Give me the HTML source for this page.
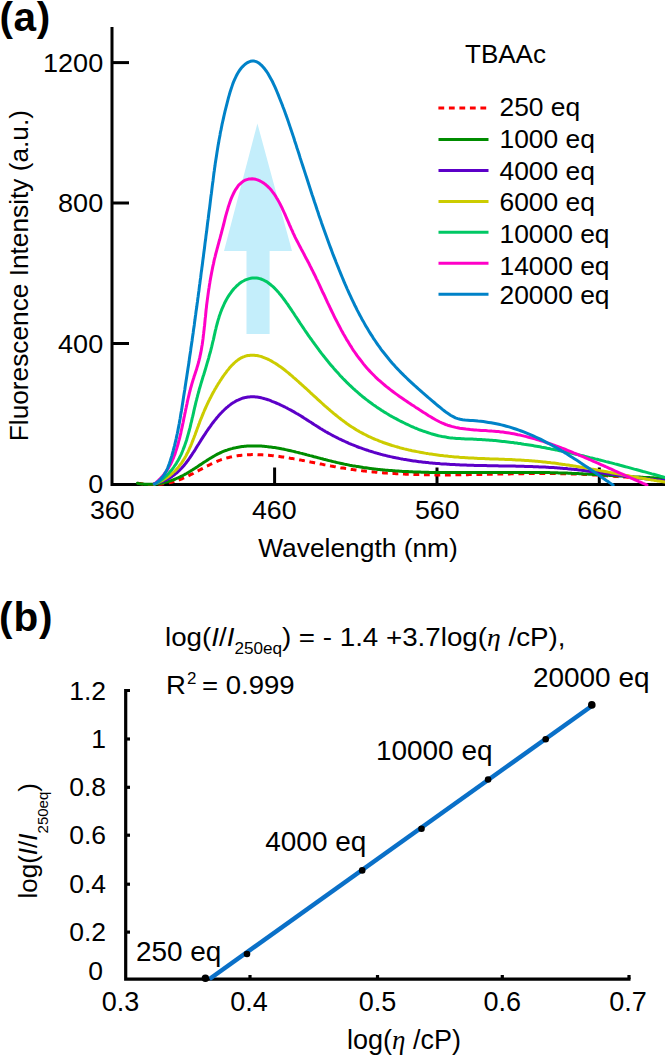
<!DOCTYPE html>
<html><head><meta charset="utf-8"><style>
html,body{margin:0;padding:0;background:#fff;overflow:hidden;}
svg{display:block;}
text{font-family:"Liberation Sans", sans-serif;fill:#000;}
</style></head><body>
<svg width="665" height="1057" viewBox="0 0 665 1057">
<rect width="665" height="1057" fill="#fff"/>
<text transform="translate(-0.5,31)" font-size="40.5" font-weight="bold" letter-spacing="0.6">(a)</text>
<path d="M246.5,334 L246.5,251 L224,251 L257.4,123.5 L292,251 L269.6,251 L269.6,334 Z" fill="#c4eefb"/>
<g stroke="#000" stroke-width="3" fill="none">
<path d="M112,27 L112,484.5 L665,484.5"/>
<path d="M112,62.6 L129,62.6"/>
<path d="M112,203 L129,203"/>
<path d="M112,343.5 L129,343.5"/>
<path d="M274.6,467.5 L274.6,484.5"/>
<path d="M437,467.5 L437,484.5"/>
<path d="M599.3,467.5 L599.3,484.5"/>
</g>
<defs><clipPath id="ca"><rect x="112" y="0" width="560" height="486"/></clipPath></defs>
<g clip-path="url(#ca)" fill="none" stroke-width="3" stroke-linejoin="round" stroke-linecap="round">
<path d="M137.4,483.2 L138.9,483.4 L140.3,483.6 L141.7,483.8 L143.1,484.0 L144.6,484.2 L146.0,484.3 L147.4,484.4 L148.8,484.5 L150.1,484.5 L151.5,484.6 L152.9,484.6 L154.3,484.6 L155.6,484.5 L157.0,484.5 L158.4,484.4 L159.7,484.3 L161.1,484.2 L162.4,484.0 L163.7,483.8 L165.1,483.6 L166.4,483.4 L167.7,483.2 L169.0,482.9 L170.3,482.6 L171.6,482.3 L172.9,481.9 L174.2,481.5 L175.5,481.1 L176.8,480.7 L178.1,480.3 L179.3,479.8 L180.6,479.3 L181.9,478.8 L183.1,478.2 L184.4,477.7 L185.6,477.1 L186.9,476.5 L188.1,476.0 L189.4,475.3 L190.6,474.7 L191.8,474.1 L193.1,473.5 L194.3,472.8 L195.5,472.2 L196.8,471.5 L198.0,470.9 L199.2,470.2 L200.4,469.6 L201.7,468.9 L202.9,468.3 L204.1,467.6 L205.3,467.0 L206.5,466.3 L207.8,465.7 L209.0,465.1 L210.2,464.5 L211.4,463.9 L212.7,463.3 L213.9,462.8 L215.1,462.2 L216.3,461.7 L217.6,461.1 L218.8,460.6 L220.0,460.2 L221.3,459.7 L222.5,459.3 L223.8,458.9 L225.0,458.5 L226.3,458.1 L227.5,457.8 L228.8,457.5 L230.0,457.1 L231.3,456.9 L232.6,456.6 L233.8,456.3 L235.1,456.1 L236.4,455.9 L237.6,455.7 L238.9,455.5 L240.2,455.4 L241.5,455.2 L242.7,455.1 L244.0,455.0 L245.3,454.9 L246.6,454.8 L247.9,454.7 L249.2,454.7 L250.5,454.7 L251.8,454.6 L253.1,454.6 L254.4,454.6 L255.7,454.6 L257.0,454.6 L258.3,454.7 L259.6,454.7 L260.9,454.8 L262.2,454.8 L263.5,454.9 L264.8,455.0 L266.2,455.1 L267.5,455.2 L268.8,455.3 L270.1,455.4 L271.5,455.6 L272.8,455.7 L274.1,455.9 L275.4,456.0 L276.8,456.2 L278.1,456.3 L279.4,456.5 L280.8,456.7 L282.1,456.9 L283.5,457.1 L284.8,457.3 L286.1,457.5 L287.5,457.7 L288.8,457.9 L290.2,458.2 L291.5,458.4 L292.9,458.6 L294.2,458.9 L295.6,459.1 L296.9,459.4 L298.3,459.6 L299.6,459.9 L301.0,460.1 L302.3,460.4 L303.7,460.6 L305.1,460.9 L306.4,461.2 L307.8,461.4 L309.1,461.7 L310.5,462.0 L311.8,462.2 L313.2,462.5 L314.6,462.8 L315.9,463.1 L317.3,463.3 L318.7,463.6 L320.0,463.9 L321.4,464.1 L322.7,464.4 L324.1,464.7 L325.5,464.9 L326.8,465.2 L328.2,465.5 L329.6,465.7 L330.9,466.0 L332.3,466.2 L333.7,466.5 L335.0,466.7 L336.4,467.0 L337.7,467.2 L339.1,467.4 L340.5,467.7 L341.8,467.9 L343.2,468.1 L344.6,468.3 L345.9,468.6 L347.3,468.8 L348.6,469.0 L350.0,469.2 L351.4,469.4 L352.7,469.6 L354.1,469.7 L355.4,469.9 L356.8,470.1 L358.2,470.3 L359.5,470.5 L360.9,470.6 L362.3,470.8 L363.6,470.9 L365.0,471.1 L366.3,471.3 L367.7,471.4 L369.0,471.5 L370.4,471.7 L371.8,471.8 L373.1,472.0 L374.5,472.1 L375.8,472.2 L377.2,472.3 L378.6,472.5 L379.9,472.6 L381.3,472.7 L382.6,472.8 L384.0,472.9 L385.3,473.0 L386.7,473.1 L388.0,473.2 L389.4,473.3 L390.8,473.4 L392.1,473.5 L393.5,473.5 L394.8,473.6 L396.2,473.7 L397.5,473.8 L398.9,473.8 L400.2,473.9 L401.6,474.0 L403.0,474.0 L404.3,474.1 L405.7,474.2 L407.0,474.2 L408.4,474.3 L409.7,474.3 L411.1,474.4 L412.4,474.4 L413.8,474.5 L415.1,474.5 L416.5,474.5 L417.8,474.6 L419.2,474.6 L420.5,474.6 L421.9,474.7 L423.3,474.7 L424.6,474.7 L426.0,474.7 L427.3,474.8 L428.7,474.8 L430.0,474.8 L431.4,474.8 L432.7,474.8 L434.1,474.8 L435.4,474.9 L436.8,474.9 L438.1,474.9 L439.5,474.9 L440.8,474.9 L442.2,474.9 L443.5,474.9 L444.9,474.9 L446.2,474.9 L447.6,474.9 L448.9,474.9 L450.3,474.9 L451.6,474.8 L453.0,474.8 L454.3,474.8 L455.7,474.8 L457.0,474.8 L458.4,474.8 L459.7,474.8 L461.1,474.8 L462.4,474.7 L463.8,474.7 L465.1,474.7 L466.5,474.7 L467.8,474.7 L469.2,474.6 L470.5,474.6 L471.9,474.6 L473.2,474.6 L474.6,474.6 L475.9,474.5 L477.3,474.5 L478.6,474.5 L480.0,474.5 L481.3,474.4 L482.7,474.4 L484.0,474.4 L485.4,474.3 L486.7,474.3 L488.1,474.3 L489.4,474.3 L490.8,474.2 L492.1,474.2 L493.5,474.2 L494.8,474.2 L496.2,474.1 L497.5,474.1 L498.9,474.1 L500.2,474.0 L501.6,474.0 L502.9,474.0 L504.2,474.0 L505.6,473.9 L506.9,473.9 L508.3,473.9 L509.6,473.9 L511.0,473.8 L512.3,473.8 L513.7,473.8 L515.0,473.8 L516.4,473.8 L517.7,473.7 L519.1,473.7 L520.4,473.7 L521.8,473.7 L523.1,473.7 L524.5,473.6 L525.8,473.6 L527.2,473.6 L528.5,473.6 L529.9,473.6 L531.2,473.6 L532.6,473.6 L533.9,473.5 L535.3,473.5 L536.6,473.5 L538.0,473.5 L539.3,473.5 L540.7,473.5 L542.0,473.5 L543.4,473.5 L544.7,473.5 L546.1,473.5 L547.4,473.5 L548.8,473.5 L550.1,473.5 L551.5,473.5 L552.8,473.6 L554.2,473.6 L555.5,473.6 L556.9,473.6 L558.2,473.6 L559.6,473.6 L560.9,473.7 L562.3,473.7 L563.6,473.7 L565.0,473.7 L566.3,473.8 L567.7,473.8 L569.0,473.8 L570.4,473.9 L571.7,473.9 L573.1,474.0 L574.4,474.0 L575.8,474.1 L577.1,474.1 L578.5,474.2 L579.8,474.2 L581.2,474.3 L582.5,474.3 L583.9,474.4 L585.2,474.5 L586.6,474.5 L587.9,474.6 L589.3,474.7 L590.6,474.7 L592.0,474.8 L593.3,474.9 L594.7,475.0 L596.0,475.1 L597.4,475.2 L598.8,475.2 L600.1,475.3 L601.5,475.4 L602.8,475.5 L604.2,475.6 L605.5,475.7 L606.9,475.8 L608.2,475.9 L609.6,476.0 L610.9,476.1 L612.3,476.2 L613.7,476.3 L615.0,476.4 L616.4,476.5 L617.7,476.6 L619.1,476.7 L620.4,476.8 L621.8,476.9 L623.1,477.0 L624.5,477.1 L625.9,477.1 L627.2,477.2 L628.6,477.3 L629.9,477.4 L631.3,477.5 L632.7,477.6 L634.0,477.7 L635.4,477.8 L636.8,477.9 L638.1,477.9 L639.5,478.0 L640.8,478.1 L642.2,478.2 L643.6,478.2 L644.9,478.3 L646.3,478.4 L647.7,478.4 L649.0,478.5 L650.4,478.6 L651.8,478.6 L653.1,478.7 L654.5,478.7 L655.9,478.8 L657.2,478.8 L658.6,478.8 L660.0,478.9 L661.3,478.9 L662.7,478.9 L664.1,479.0 L665.5,479.0 L666.8,479.0 L668.2,479.0 L669.6,479.0 L671.0,479.0" stroke="#ff0000" stroke-dasharray="5.8,4.7" stroke-linecap="butt"/>
<path d="M137.4,483.2 L138.9,483.5 L140.3,483.7 L141.7,483.9 L143.2,484.0 L144.6,484.2 L146.0,484.3 L147.4,484.3 L148.8,484.3 L150.2,484.3 L151.6,484.3 L153.0,484.2 L154.4,484.1 L155.7,484.0 L157.1,483.9 L158.4,483.7 L159.8,483.5 L161.1,483.3 L162.5,483.0 L163.8,482.7 L165.1,482.4 L166.4,482.0 L167.7,481.7 L169.0,481.3 L170.3,480.9 L171.6,480.4 L172.9,480.0 L174.2,479.5 L175.5,479.0 L176.7,478.4 L178.0,477.9 L179.2,477.3 L180.5,476.7 L181.7,476.1 L182.9,475.5 L184.2,474.8 L185.4,474.1 L186.6,473.5 L187.8,472.7 L189.0,472.0 L190.2,471.3 L191.4,470.5 L192.6,469.8 L193.8,469.0 L195.0,468.3 L196.2,467.5 L197.4,466.7 L198.5,465.9 L199.7,465.1 L200.9,464.4 L202.1,463.6 L203.2,462.8 L204.4,462.0 L205.6,461.3 L206.8,460.5 L207.9,459.7 L209.1,459.0 L210.3,458.3 L211.5,457.6 L212.6,456.9 L213.8,456.2 L215.0,455.5 L216.2,454.8 L217.4,454.2 L218.6,453.6 L219.8,453.0 L221.0,452.5 L222.2,451.9 L223.4,451.4 L224.6,450.9 L225.8,450.5 L227.0,450.1 L228.3,449.6 L229.5,449.3 L230.7,448.9 L232.0,448.6 L233.2,448.2 L234.4,447.9 L235.7,447.7 L236.9,447.4 L238.2,447.2 L239.5,447.0 L240.7,446.8 L242.0,446.6 L243.3,446.4 L244.5,446.3 L245.8,446.2 L247.1,446.1 L248.4,446.0 L249.7,445.9 L250.9,445.9 L252.2,445.9 L253.5,445.9 L254.8,445.9 L256.1,445.9 L257.4,445.9 L258.7,446.0 L260.1,446.0 L261.4,446.1 L262.7,446.2 L264.0,446.3 L265.3,446.4 L266.6,446.6 L268.0,446.7 L269.3,446.9 L270.6,447.0 L272.0,447.2 L273.3,447.4 L274.6,447.6 L276.0,447.8 L277.3,448.1 L278.6,448.3 L280.0,448.5 L281.3,448.8 L282.7,449.1 L284.0,449.3 L285.4,449.6 L286.7,449.9 L288.1,450.2 L289.4,450.5 L290.8,450.8 L292.1,451.1 L293.5,451.4 L294.9,451.7 L296.2,452.1 L297.6,452.4 L298.9,452.7 L300.3,453.1 L301.7,453.4 L303.0,453.8 L304.4,454.1 L305.8,454.5 L307.1,454.9 L308.5,455.2 L309.9,455.6 L311.3,455.9 L312.6,456.3 L314.0,456.7 L315.4,457.0 L316.7,457.4 L318.1,457.8 L319.5,458.1 L320.9,458.5 L322.2,458.8 L323.6,459.2 L325.0,459.5 L326.3,459.9 L327.7,460.3 L329.1,460.6 L330.5,460.9 L331.8,461.3 L333.2,461.6 L334.6,461.9 L336.0,462.3 L337.3,462.6 L338.7,462.9 L340.1,463.2 L341.4,463.5 L342.8,463.8 L344.2,464.1 L345.5,464.4 L346.9,464.6 L348.3,464.9 L349.6,465.2 L351.0,465.4 L352.4,465.7 L353.7,465.9 L355.1,466.1 L356.5,466.4 L357.8,466.6 L359.2,466.8 L360.5,467.0 L361.9,467.2 L363.3,467.5 L364.6,467.7 L366.0,467.8 L367.3,468.0 L368.7,468.2 L370.1,468.4 L371.4,468.6 L372.8,468.7 L374.1,468.9 L375.5,469.1 L376.8,469.2 L378.2,469.4 L379.6,469.5 L380.9,469.7 L382.3,469.8 L383.6,469.9 L385.0,470.1 L386.3,470.2 L387.7,470.3 L389.0,470.4 L390.4,470.5 L391.7,470.6 L393.1,470.7 L394.4,470.8 L395.8,470.9 L397.2,471.0 L398.5,471.1 L399.9,471.2 L401.2,471.3 L402.6,471.4 L403.9,471.4 L405.3,471.5 L406.6,471.6 L408.0,471.6 L409.3,471.7 L410.7,471.8 L412.0,471.8 L413.4,471.9 L414.7,471.9 L416.1,472.0 L417.4,472.0 L418.8,472.1 L420.1,472.1 L421.5,472.2 L422.8,472.2 L424.2,472.2 L425.5,472.3 L426.9,472.3 L428.2,472.3 L429.6,472.4 L430.9,472.4 L432.3,472.4 L433.6,472.4 L435.0,472.5 L436.3,472.5 L437.7,472.5 L439.0,472.5 L440.4,472.5 L441.7,472.6 L443.1,472.6 L444.5,472.6 L445.8,472.6 L447.2,472.6 L448.5,472.6 L449.9,472.6 L451.2,472.6 L452.6,472.6 L453.9,472.6 L455.3,472.6 L456.6,472.6 L458.0,472.6 L459.3,472.6 L460.7,472.6 L462.0,472.6 L463.4,472.6 L464.8,472.6 L466.1,472.6 L467.5,472.6 L468.8,472.6 L470.2,472.6 L471.5,472.6 L472.9,472.6 L474.2,472.6 L475.6,472.6 L477.0,472.6 L478.3,472.6 L479.7,472.6 L481.0,472.6 L482.4,472.6 L483.7,472.5 L485.1,472.5 L486.5,472.5 L487.8,472.5 L489.2,472.5 L490.5,472.5 L491.9,472.5 L493.2,472.5 L494.6,472.5 L496.0,472.5 L497.3,472.5 L498.7,472.4 L500.0,472.4 L501.4,472.4 L502.8,472.4 L504.1,472.4 L505.5,472.4 L506.8,472.4 L508.2,472.4 L509.6,472.4 L510.9,472.4 L512.3,472.4 L513.7,472.4 L515.0,472.4 L516.4,472.4 L517.7,472.4 L519.1,472.4 L520.5,472.4 L521.8,472.4 L523.2,472.4 L524.6,472.4 L525.9,472.4 L527.3,472.4 L528.7,472.4 L530.0,472.4 L531.4,472.4 L532.8,472.4 L534.1,472.4 L535.5,472.5 L536.9,472.5 L538.2,472.5 L539.6,472.5 L541.0,472.5 L542.3,472.5 L543.7,472.6 L545.1,472.6 L546.4,472.6 L547.8,472.6 L549.2,472.6 L550.5,472.7 L551.9,472.7 L553.3,472.7 L554.6,472.8 L556.0,472.8 L557.4,472.8 L558.8,472.9 L560.1,472.9 L561.5,473.0 L562.9,473.0 L564.3,473.0 L565.6,473.1 L567.0,473.1 L568.4,473.2 L569.7,473.3 L571.1,473.3 L572.5,473.4 L573.9,473.4 L575.2,473.5 L576.6,473.6 L578.0,473.6 L579.4,473.7 L580.7,473.7 L582.1,473.8 L583.5,473.9 L584.9,474.0 L586.3,474.0 L587.6,474.1 L589.0,474.2 L590.4,474.3 L591.8,474.3 L593.1,474.4 L594.5,474.5 L595.9,474.6 L597.3,474.6 L598.6,474.7 L600.0,474.8 L601.4,474.9 L602.8,475.0 L604.1,475.1 L605.5,475.1 L606.9,475.2 L608.3,475.3 L609.6,475.4 L611.0,475.5 L612.4,475.6 L613.8,475.6 L615.1,475.7 L616.5,475.8 L617.9,475.9 L619.3,476.0 L620.6,476.1 L622.0,476.1 L623.4,476.2 L624.7,476.3 L626.1,476.4 L627.5,476.5 L628.8,476.5 L630.2,476.6 L631.6,476.7 L633.0,476.8 L634.3,476.9 L635.7,476.9 L637.1,477.0 L638.4,477.1 L639.8,477.1 L641.1,477.2 L642.5,477.3 L643.9,477.4 L645.2,477.4 L646.6,477.5 L648.0,477.6 L649.3,477.6 L650.7,477.7 L652.0,477.7 L653.4,477.8 L654.8,477.9 L656.1,477.9 L657.5,478.0 L658.8,478.0 L660.2,478.1 L661.5,478.1 L662.9,478.2 L664.2,478.2 L665.6,478.2 L666.9,478.3 L668.3,478.3 L669.6,478.3 L671.0,478.4" stroke="#008c00"/>
<path d="M154.3,483.7 L155.9,483.4 L157.5,483.0 L159.0,482.6 L160.4,482.1 L161.9,481.6 L163.3,481.1 L164.6,480.5 L166.0,479.9 L167.2,479.3 L168.5,478.6 L169.7,477.9 L170.9,477.2 L172.1,476.4 L173.2,475.6 L174.3,474.8 L175.4,473.9 L176.5,473.1 L177.5,472.2 L178.5,471.2 L179.5,470.3 L180.5,469.3 L181.5,468.3 L182.4,467.3 L183.3,466.3 L184.2,465.2 L185.1,464.1 L186.0,463.0 L186.8,461.9 L187.7,460.8 L188.5,459.7 L189.3,458.5 L190.1,457.3 L190.9,456.1 L191.7,455.0 L192.5,453.7 L193.3,452.5 L194.1,451.3 L194.9,450.1 L195.7,448.8 L196.4,447.6 L197.2,446.3 L198.0,445.0 L198.8,443.8 L199.6,442.5 L200.4,441.2 L201.2,439.9 L202.0,438.7 L202.8,437.4 L203.6,436.1 L204.5,434.8 L205.3,433.6 L206.1,432.3 L207.0,431.0 L207.8,429.8 L208.7,428.5 L209.6,427.3 L210.5,426.1 L211.3,424.9 L212.2,423.7 L213.1,422.5 L214.0,421.3 L215.0,420.1 L215.9,419.0 L216.8,417.8 L217.8,416.7 L218.7,415.6 L219.7,414.5 L220.6,413.5 L221.6,412.5 L222.6,411.4 L223.6,410.5 L224.6,409.5 L225.6,408.6 L226.6,407.7 L227.7,406.8 L228.7,405.9 L229.8,405.1 L230.8,404.3 L231.9,403.6 L233.0,402.8 L234.1,402.2 L235.2,401.5 L236.3,400.9 L237.4,400.3 L238.6,399.8 L239.7,399.3 L240.9,398.8 L242.0,398.4 L243.2,398.0 L244.4,397.7 L245.6,397.4 L246.8,397.2 L248.1,397.0 L249.3,396.9 L250.6,396.8 L251.8,396.7 L253.1,396.7 L254.4,396.8 L255.7,396.9 L257.0,397.0 L258.4,397.2 L259.7,397.5 L261.1,397.8 L262.4,398.1 L263.8,398.5 L265.1,398.9 L266.5,399.3 L267.9,399.7 L269.3,400.2 L270.6,400.7 L272.0,401.3 L273.4,401.8 L274.8,402.4 L276.2,403.0 L277.6,403.6 L279.0,404.2 L280.3,404.8 L281.7,405.5 L283.1,406.2 L284.5,406.8 L285.8,407.5 L287.2,408.2 L288.6,409.0 L289.9,409.7 L291.3,410.4 L292.6,411.2 L294.0,411.9 L295.3,412.7 L296.6,413.5 L298.0,414.2 L299.3,415.0 L300.6,415.8 L301.9,416.6 L303.2,417.4 L304.4,418.2 L305.7,419.0 L307.0,419.9 L308.3,420.7 L309.5,421.5 L310.8,422.3 L312.0,423.1 L313.3,423.9 L314.5,424.7 L315.8,425.5 L317.0,426.3 L318.3,427.1 L319.5,427.9 L320.8,428.7 L322.1,429.4 L323.3,430.2 L324.6,430.9 L325.8,431.7 L327.1,432.4 L328.3,433.1 L329.6,433.8 L330.9,434.5 L332.2,435.2 L333.4,435.9 L334.7,436.5 L336.0,437.2 L337.3,437.8 L338.5,438.5 L339.8,439.1 L341.1,439.7 L342.4,440.3 L343.7,440.9 L345.0,441.5 L346.3,442.1 L347.6,442.7 L348.9,443.3 L350.2,443.8 L351.5,444.4 L352.8,444.9 L354.1,445.4 L355.4,445.9 L356.7,446.5 L358.0,447.0 L359.3,447.5 L360.7,447.9 L362.0,448.4 L363.3,448.9 L364.6,449.3 L366.0,449.8 L367.3,450.2 L368.6,450.7 L370.0,451.1 L371.3,451.5 L372.6,451.9 L374.0,452.4 L375.3,452.7 L376.7,453.1 L378.0,453.5 L379.3,453.9 L380.7,454.3 L382.0,454.6 L383.4,455.0 L384.8,455.3 L386.1,455.6 L387.5,456.0 L388.8,456.3 L390.2,456.6 L391.6,456.9 L392.9,457.2 L394.3,457.5 L395.7,457.8 L397.0,458.1 L398.4,458.3 L399.8,458.6 L401.2,458.9 L402.5,459.1 L403.9,459.4 L405.3,459.6 L406.7,459.8 L408.1,460.1 L409.5,460.3 L410.8,460.5 L412.2,460.7 L413.6,460.9 L415.0,461.1 L416.4,461.3 L417.8,461.5 L419.2,461.7 L420.6,461.8 L422.0,462.0 L423.4,462.2 L424.8,462.3 L426.2,462.5 L427.6,462.6 L429.0,462.8 L430.4,462.9 L431.9,463.0 L433.3,463.2 L434.7,463.3 L436.1,463.4 L437.5,463.5 L438.9,463.6 L440.3,463.8 L441.8,463.9 L443.2,464.0 L444.6,464.1 L446.0,464.1 L447.4,464.2 L448.9,464.3 L450.3,464.4 L451.7,464.5 L453.1,464.6 L454.6,464.6 L456.0,464.7 L457.4,464.8 L458.9,464.8 L460.3,464.9 L461.7,464.9 L463.1,465.0 L464.6,465.1 L466.0,465.1 L467.4,465.2 L468.9,465.2 L470.3,465.3 L471.7,465.3 L473.2,465.3 L474.6,465.4 L476.1,465.4 L477.5,465.4 L478.9,465.5 L480.4,465.5 L481.8,465.5 L483.2,465.6 L484.7,465.6 L486.1,465.6 L487.6,465.7 L489.0,465.7 L490.4,465.7 L491.9,465.7 L493.3,465.8 L494.8,465.8 L496.2,465.8 L497.6,465.8 L499.1,465.9 L500.5,465.9 L502.0,465.9 L503.4,465.9 L504.8,466.0 L506.3,466.0 L507.7,466.0 L509.2,466.0 L510.6,466.1 L512.0,466.1 L513.5,466.1 L514.9,466.1 L516.4,466.2 L517.8,466.2 L519.2,466.2 L520.7,466.3 L522.1,466.3 L523.6,466.3 L525.0,466.4 L526.4,466.4 L527.9,466.5 L529.3,466.5 L530.7,466.6 L532.2,466.6 L533.6,466.7 L535.0,466.7 L536.5,466.8 L537.9,466.8 L539.3,466.9 L540.8,466.9 L542.2,467.0 L543.6,467.1 L545.1,467.1 L546.5,467.2 L547.9,467.3 L549.3,467.4 L550.8,467.5 L552.2,467.6 L553.6,467.6 L555.0,467.7 L556.5,467.8 L557.9,467.9 L559.3,468.0 L560.7,468.2 L562.1,468.3 L563.5,468.4 L565.0,468.5 L566.4,468.6 L567.8,468.8 L569.2,468.9 L570.6,469.0 L572.0,469.2 L573.4,469.3 L574.8,469.5 L576.3,469.6 L577.7,469.8 L579.1,470.0 L580.5,470.1 L581.9,470.3 L583.3,470.5 L584.7,470.6 L586.1,470.8 L587.5,471.0 L588.9,471.2 L590.3,471.4 L591.7,471.5 L593.1,471.7 L594.5,471.9 L595.9,472.1 L597.3,472.3 L598.7,472.5 L600.1,472.7 L601.5,472.9 L602.9,473.1 L604.3,473.3 L605.7,473.5 L607.1,473.7 L608.5,473.9 L609.9,474.1 L611.3,474.2 L612.7,474.4 L614.1,474.6 L615.5,474.8 L616.9,475.0 L618.3,475.2 L619.7,475.4 L621.1,475.6 L622.5,475.8 L623.9,476.0 L625.3,476.2 L626.7,476.4 L628.2,476.6 L629.6,476.8 L631.0,477.0 L632.4,477.1 L633.8,477.3 L635.2,477.5 L636.6,477.7 L638.0,477.9 L639.5,478.0 L640.9,478.2 L642.3,478.4 L643.7,478.5 L645.1,478.7 L646.6,478.9 L648.0,479.0 L649.4,479.2 L650.8,479.3 L652.3,479.5 L653.7,479.6 L655.1,479.7 L656.6,479.9 L658.0,480.0 L659.4,480.1 L660.9,480.2 L662.3,480.3 L663.7,480.5 L665.2,480.6 L666.6,480.7 L668.1,480.7 L669.5,480.8 L671.0,480.9" stroke="#5c00c8"/>
<path d="M154.4,484.1 L156.1,483.4 L157.7,482.7 L159.3,481.9 L160.9,481.2 L162.4,480.4 L163.8,479.5 L165.2,478.7 L166.6,477.8 L167.9,476.9 L169.1,476.0 L170.4,475.0 L171.5,474.0 L172.7,473.0 L173.8,472.0 L174.9,471.0 L175.9,469.9 L176.9,468.8 L177.9,467.7 L178.8,466.6 L179.7,465.4 L180.6,464.3 L181.5,463.1 L182.3,461.9 L183.1,460.7 L183.9,459.4 L184.6,458.2 L185.4,456.9 L186.1,455.6 L186.7,454.3 L187.4,453.0 L188.1,451.7 L188.7,450.4 L189.3,449.0 L189.9,447.6 L190.5,446.3 L191.1,444.9 L191.7,443.5 L192.2,442.1 L192.8,440.7 L193.3,439.3 L193.9,437.8 L194.4,436.4 L195.0,435.0 L195.5,433.5 L196.0,432.1 L196.6,430.6 L197.1,429.1 L197.6,427.7 L198.2,426.2 L198.7,424.7 L199.3,423.3 L199.8,421.8 L200.4,420.3 L201.0,418.8 L201.6,417.4 L202.2,415.9 L202.8,414.4 L203.4,412.9 L204.0,411.5 L204.6,410.0 L205.3,408.5 L206.0,407.0 L206.6,405.6 L207.3,404.1 L208.0,402.6 L208.7,401.1 L209.5,399.7 L210.2,398.2 L211.0,396.7 L211.7,395.3 L212.5,393.8 L213.3,392.3 L214.1,390.9 L214.9,389.4 L215.8,388.0 L216.6,386.5 L217.5,385.1 L218.4,383.6 L219.3,382.2 L220.2,380.7 L221.2,379.3 L222.1,377.9 L223.1,376.4 L224.1,375.0 L225.1,373.6 L226.1,372.3 L227.1,370.9 L228.2,369.6 L229.2,368.3 L230.3,367.1 L231.4,365.8 L232.5,364.7 L233.6,363.6 L234.8,362.5 L235.9,361.5 L237.1,360.6 L238.2,359.7 L239.4,358.9 L240.6,358.2 L241.8,357.6 L243.0,357.0 L244.2,356.6 L245.4,356.1 L246.7,355.8 L247.9,355.5 L249.2,355.4 L250.4,355.2 L251.7,355.2 L253.0,355.2 L254.2,355.2 L255.5,355.4 L256.8,355.5 L258.1,355.8 L259.4,356.1 L260.7,356.4 L262.0,356.8 L263.3,357.3 L264.6,357.8 L265.9,358.3 L267.2,358.9 L268.6,359.5 L269.9,360.2 L271.2,360.9 L272.5,361.7 L273.8,362.5 L275.2,363.3 L276.5,364.1 L277.8,365.0 L279.1,365.9 L280.4,366.8 L281.8,367.8 L283.1,368.8 L284.4,369.8 L285.7,370.8 L287.0,371.9 L288.3,372.9 L289.6,374.0 L290.9,375.1 L292.2,376.2 L293.4,377.3 L294.7,378.4 L296.0,379.5 L297.2,380.6 L298.5,381.7 L299.7,382.9 L301.0,384.0 L302.2,385.1 L303.4,386.2 L304.7,387.3 L305.9,388.4 L307.1,389.5 L308.3,390.6 L309.5,391.7 L310.6,392.8 L311.8,393.9 L313.0,395.0 L314.2,396.1 L315.4,397.2 L316.5,398.2 L317.7,399.3 L318.9,400.4 L320.0,401.4 L321.2,402.5 L322.3,403.5 L323.5,404.6 L324.6,405.6 L325.8,406.6 L327.0,407.6 L328.1,408.6 L329.3,409.6 L330.4,410.6 L331.6,411.6 L332.8,412.6 L333.9,413.6 L335.1,414.5 L336.3,415.5 L337.4,416.4 L338.6,417.4 L339.8,418.3 L341.0,419.2 L342.2,420.1 L343.4,421.0 L344.6,421.9 L345.8,422.8 L347.0,423.7 L348.2,424.5 L349.5,425.4 L350.7,426.2 L351.9,427.0 L353.2,427.8 L354.5,428.6 L355.7,429.4 L357.0,430.2 L358.3,430.9 L359.6,431.7 L360.9,432.4 L362.3,433.1 L363.6,433.9 L364.9,434.5 L366.3,435.2 L367.6,435.9 L369.0,436.6 L370.4,437.2 L371.8,437.8 L373.2,438.5 L374.6,439.1 L376.0,439.7 L377.5,440.2 L378.9,440.8 L380.3,441.4 L381.8,441.9 L383.2,442.5 L384.7,443.0 L386.2,443.5 L387.7,444.0 L389.2,444.5 L390.6,445.0 L392.1,445.5 L393.6,445.9 L395.2,446.4 L396.7,446.8 L398.2,447.2 L399.7,447.7 L401.3,448.1 L402.8,448.5 L404.3,448.9 L405.9,449.2 L407.4,449.6 L409.0,450.0 L410.5,450.3 L412.1,450.7 L413.7,451.0 L415.2,451.3 L416.8,451.6 L418.4,451.9 L419.9,452.2 L421.5,452.5 L423.1,452.8 L424.7,453.1 L426.3,453.4 L427.8,453.6 L429.4,453.9 L431.0,454.1 L432.6,454.3 L434.2,454.6 L435.8,454.8 L437.4,455.0 L438.9,455.2 L440.5,455.4 L442.1,455.6 L443.7,455.8 L445.3,455.9 L446.9,456.1 L448.4,456.3 L450.0,456.4 L451.6,456.6 L453.2,456.7 L454.7,456.9 L456.3,457.0 L457.9,457.1 L459.4,457.3 L461.0,457.4 L462.6,457.5 L464.1,457.6 L465.7,457.7 L467.2,457.8 L468.8,457.9 L470.3,458.0 L471.8,458.1 L473.4,458.1 L474.9,458.2 L476.5,458.3 L478.0,458.4 L479.5,458.4 L481.1,458.5 L482.6,458.6 L484.1,458.6 L485.6,458.7 L487.2,458.7 L488.7,458.8 L490.2,458.9 L491.7,458.9 L493.3,459.0 L494.8,459.0 L496.3,459.1 L497.8,459.1 L499.3,459.2 L500.8,459.2 L502.4,459.3 L503.9,459.3 L505.4,459.4 L506.9,459.5 L508.4,459.5 L509.9,459.6 L511.4,459.6 L513.0,459.7 L514.5,459.8 L516.0,459.9 L517.5,459.9 L519.0,460.0 L520.5,460.1 L522.0,460.2 L523.6,460.3 L525.1,460.4 L526.6,460.5 L528.1,460.6 L529.6,460.7 L531.1,460.8 L532.7,460.9 L534.2,461.0 L535.7,461.2 L537.2,461.3 L538.8,461.4 L540.3,461.6 L541.8,461.7 L543.4,461.9 L544.9,462.0 L546.4,462.2 L548.0,462.4 L549.5,462.6 L551.0,462.8 L552.6,462.9 L554.1,463.1 L555.6,463.3 L557.2,463.5 L558.7,463.8 L560.3,464.0 L561.8,464.2 L563.4,464.4 L564.9,464.6 L566.4,464.9 L568.0,465.1 L569.5,465.3 L571.1,465.6 L572.6,465.8 L574.2,466.1 L575.7,466.3 L577.3,466.6 L578.8,466.8 L580.4,467.1 L581.9,467.3 L583.5,467.6 L585.0,467.9 L586.6,468.1 L588.1,468.4 L589.7,468.7 L591.2,469.0 L592.8,469.2 L594.3,469.5 L595.9,469.8 L597.4,470.1 L599.0,470.4 L600.5,470.7 L602.1,470.9 L603.6,471.2 L605.2,471.5 L606.7,471.8 L608.3,472.1 L609.8,472.4 L611.4,472.7 L612.9,473.0 L614.5,473.2 L616.0,473.5 L617.6,473.8 L619.1,474.1 L620.7,474.4 L622.2,474.7 L623.8,475.0 L625.3,475.3 L626.8,475.5 L628.4,475.8 L629.9,476.1 L631.5,476.4 L633.0,476.7 L634.5,476.9 L636.1,477.2 L637.6,477.5 L639.1,477.8 L640.7,478.0 L642.2,478.3 L643.7,478.6 L645.3,478.8 L646.8,479.1 L648.3,479.4 L649.8,479.6 L651.4,479.9 L652.9,480.1 L654.4,480.4 L655.9,480.6 L657.4,480.9 L658.9,481.1 L660.5,481.3 L662.0,481.6 L663.5,481.8 L665.0,482.0 L666.5,482.2 L668.0,482.4 L669.5,482.6 L671.0,482.8" stroke="#cccc00"/>
<path d="M154.6,484.1 L156.3,483.2 L157.9,482.2 L159.5,481.2 L161.0,480.1 L162.5,479.0 L163.9,477.8 L165.2,476.7 L166.6,475.5 L167.8,474.2 L169.0,472.9 L170.2,471.6 L171.4,470.3 L172.5,468.9 L173.5,467.5 L174.5,466.0 L175.5,464.6 L176.5,463.1 L177.4,461.6 L178.3,460.0 L179.1,458.5 L179.9,456.9 L180.7,455.3 L181.5,453.6 L182.2,452.0 L182.9,450.3 L183.5,448.6 L184.2,446.9 L184.8,445.2 L185.4,443.5 L186.0,441.7 L186.6,440.0 L187.1,438.2 L187.6,436.4 L188.1,434.6 L188.6,432.8 L189.1,431.0 L189.6,429.2 L190.1,427.4 L190.5,425.6 L190.9,423.7 L191.4,421.9 L191.8,420.1 L192.2,418.2 L192.7,416.4 L193.1,414.6 L193.5,412.8 L193.9,410.9 L194.3,409.1 L194.7,407.3 L195.2,405.5 L195.6,403.7 L196.0,401.9 L196.5,400.2 L196.9,398.4 L197.4,396.7 L197.8,394.9 L198.3,393.2 L198.8,391.5 L199.2,389.7 L199.7,388.0 L200.2,386.3 L200.7,384.6 L201.2,382.9 L201.7,381.3 L202.2,379.6 L202.7,377.9 L203.2,376.2 L203.8,374.5 L204.3,372.8 L204.8,371.2 L205.3,369.5 L205.8,367.8 L206.3,366.1 L206.8,364.4 L207.3,362.7 L207.8,361.0 L208.3,359.3 L208.8,357.6 L209.2,355.9 L209.7,354.2 L210.2,352.5 L210.7,350.7 L211.1,349.0 L211.6,347.2 L212.0,345.4 L212.4,343.7 L212.8,341.9 L213.3,340.1 L213.7,338.3 L214.1,336.4 L214.5,334.6 L214.9,332.8 L215.3,330.9 L215.8,329.1 L216.2,327.2 L216.7,325.4 L217.2,323.5 L217.7,321.7 L218.2,319.9 L218.8,318.0 L219.3,316.2 L220.0,314.3 L220.6,312.5 L221.3,310.7 L222.0,308.9 L222.8,307.1 L223.6,305.3 L224.4,303.5 L225.3,301.7 L226.2,300.0 L227.2,298.3 L228.2,296.6 L229.3,294.9 L230.4,293.3 L231.5,291.8 L232.7,290.3 L233.9,288.8 L235.2,287.5 L236.4,286.2 L237.8,285.0 L239.1,283.8 L240.5,282.8 L241.9,281.8 L243.4,281.0 L244.8,280.2 L246.3,279.6 L247.8,279.1 L249.3,278.6 L250.8,278.3 L252.3,278.1 L253.8,278.0 L255.3,278.0 L256.7,278.1 L258.2,278.3 L259.6,278.6 L261.0,279.0 L262.4,279.6 L263.8,280.2 L265.1,280.9 L266.5,281.6 L267.8,282.5 L269.1,283.5 L270.4,284.5 L271.7,285.6 L273.0,286.7 L274.3,287.9 L275.6,289.2 L276.8,290.5 L278.1,291.9 L279.3,293.4 L280.5,294.8 L281.7,296.3 L282.9,297.9 L284.1,299.5 L285.3,301.1 L286.5,302.8 L287.7,304.4 L288.8,306.1 L290.0,307.8 L291.2,309.6 L292.3,311.3 L293.5,313.0 L294.6,314.8 L295.7,316.5 L296.9,318.2 L298.0,319.9 L299.1,321.6 L300.2,323.3 L301.4,325.0 L302.5,326.7 L303.6,328.3 L304.7,330.0 L305.8,331.6 L306.9,333.2 L308.0,334.8 L309.1,336.4 L310.2,338.0 L311.4,339.5 L312.5,341.1 L313.6,342.6 L314.7,344.2 L315.8,345.7 L316.9,347.2 L318.0,348.7 L319.1,350.2 L320.2,351.6 L321.3,353.1 L322.5,354.6 L323.6,356.0 L324.7,357.4 L325.8,358.8 L327.0,360.2 L328.1,361.6 L329.2,363.0 L330.4,364.4 L331.5,365.7 L332.7,367.1 L333.8,368.4 L335.0,369.7 L336.1,371.0 L337.3,372.3 L338.5,373.6 L339.6,374.9 L340.8,376.2 L342.0,377.4 L343.2,378.7 L344.4,379.9 L345.6,381.1 L346.8,382.4 L348.1,383.6 L349.3,384.8 L350.5,385.9 L351.8,387.1 L353.0,388.3 L354.3,389.4 L355.6,390.6 L356.9,391.7 L358.2,392.8 L359.5,394.0 L360.8,395.1 L362.1,396.2 L363.4,397.2 L364.8,398.3 L366.1,399.4 L367.5,400.4 L368.9,401.5 L370.3,402.5 L371.7,403.5 L373.1,404.6 L374.5,405.6 L376.0,406.6 L377.4,407.6 L378.9,408.5 L380.4,409.5 L381.8,410.5 L383.4,411.4 L384.9,412.4 L386.4,413.3 L388.0,414.2 L389.5,415.2 L391.1,416.1 L392.7,417.0 L394.3,417.9 L395.9,418.7 L397.6,419.6 L399.2,420.5 L400.9,421.3 L402.6,422.2 L404.3,423.0 L406.0,423.9 L407.8,424.7 L409.5,425.5 L411.3,426.3 L413.0,427.0 L414.8,427.8 L416.6,428.5 L418.4,429.3 L420.2,430.0 L422.0,430.6 L423.8,431.3 L425.7,431.9 L427.5,432.5 L429.3,433.1 L431.1,433.7 L433.0,434.2 L434.8,434.7 L436.6,435.2 L438.4,435.7 L440.3,436.1 L442.1,436.5 L443.9,436.8 L445.7,437.1 L447.5,437.4 L449.3,437.7 L451.1,437.9 L452.9,438.1 L454.7,438.2 L456.4,438.4 L458.2,438.5 L460.0,438.6 L461.8,438.7 L463.5,438.8 L465.3,438.9 L467.1,438.9 L468.8,439.0 L470.6,439.1 L472.3,439.1 L474.1,439.2 L475.9,439.3 L477.6,439.4 L479.4,439.5 L481.2,439.6 L482.9,439.7 L484.7,439.8 L486.5,439.9 L488.3,440.0 L490.0,440.2 L491.8,440.3 L493.6,440.5 L495.4,440.6 L497.1,440.8 L498.9,441.0 L500.7,441.2 L502.5,441.4 L504.2,441.6 L506.0,441.8 L507.8,442.0 L509.6,442.2 L511.4,442.4 L513.1,442.6 L514.9,442.9 L516.7,443.1 L518.5,443.4 L520.3,443.6 L522.1,443.9 L523.9,444.2 L525.6,444.4 L527.4,444.7 L529.2,445.0 L531.0,445.3 L532.8,445.6 L534.6,445.9 L536.4,446.2 L538.1,446.5 L539.9,446.8 L541.7,447.2 L543.5,447.5 L545.3,447.8 L547.1,448.2 L548.9,448.5 L550.7,448.9 L552.5,449.2 L554.2,449.6 L556.0,449.9 L557.8,450.3 L559.6,450.7 L561.4,451.0 L563.2,451.4 L565.0,451.8 L566.8,452.2 L568.5,452.6 L570.3,453.0 L572.1,453.4 L573.9,453.8 L575.7,454.2 L577.5,454.6 L579.3,455.0 L581.1,455.4 L582.8,455.8 L584.6,456.3 L586.4,456.7 L588.2,457.1 L590.0,457.6 L591.8,458.0 L593.5,458.4 L595.3,458.9 L597.1,459.3 L598.9,459.8 L600.7,460.2 L602.4,460.6 L604.2,461.1 L606.0,461.6 L607.8,462.0 L609.5,462.5 L611.3,462.9 L613.1,463.4 L614.9,463.9 L616.6,464.3 L618.4,464.8 L620.2,465.3 L621.9,465.7 L623.7,466.2 L625.5,466.7 L627.2,467.1 L629.0,467.6 L630.8,468.1 L632.5,468.6 L634.3,469.1 L636.0,469.5 L637.8,470.0 L639.6,470.5 L641.3,471.0 L643.1,471.5 L644.8,471.9 L646.6,472.4 L648.3,472.9 L650.1,473.4 L651.8,473.9 L653.6,474.3 L655.3,474.8 L657.0,475.3 L658.8,475.8 L660.5,476.3 L662.3,476.7 L664.0,477.2 L665.7,477.7 L667.5,478.2 L669.2,478.7 L670.9,479.1" stroke="#00c864"/>
<path d="M154.4,483.9 L156.3,482.4 L158.0,480.8 L159.7,479.2 L161.2,477.6 L162.7,475.9 L164.1,474.2 L165.4,472.4 L166.7,470.7 L167.8,468.9 L168.9,467.1 L170.0,465.2 L171.0,463.3 L171.9,461.4 L172.7,459.5 L173.6,457.6 L174.3,455.6 L175.1,453.6 L175.7,451.6 L176.4,449.6 L177.0,447.6 L177.6,445.5 L178.2,443.5 L178.7,441.4 L179.3,439.3 L179.8,437.3 L180.3,435.2 L180.8,433.1 L181.2,431.0 L181.7,428.8 L182.2,426.7 L182.6,424.6 L183.1,422.5 L183.5,420.4 L183.9,418.2 L184.4,416.1 L184.8,413.9 L185.3,411.8 L185.7,409.7 L186.2,407.5 L186.6,405.4 L187.1,403.3 L187.5,401.1 L188.0,399.0 L188.5,396.9 L189.0,394.8 L189.5,392.6 L190.1,390.5 L190.6,388.4 L191.2,386.3 L191.8,384.2 L192.4,382.1 L193.0,380.1 L193.7,378.0 L194.3,375.9 L195.0,373.9 L195.7,371.8 L196.4,369.8 L197.0,367.7 L197.6,365.7 L198.2,363.6 L198.8,361.5 L199.3,359.4 L199.8,357.4 L200.2,355.3 L200.7,353.2 L201.1,351.0 L201.5,348.9 L201.8,346.8 L202.2,344.7 L202.5,342.5 L202.8,340.4 L203.1,338.2 L203.3,336.1 L203.6,333.9 L203.8,331.8 L204.1,329.6 L204.3,327.4 L204.6,325.2 L204.8,323.0 L205.0,320.8 L205.2,318.6 L205.5,316.4 L205.7,314.2 L205.9,312.0 L206.1,309.8 L206.4,307.6 L206.6,305.3 L206.9,303.1 L207.2,300.9 L207.5,298.6 L207.8,296.4 L208.1,294.1 L208.4,291.9 L208.7,289.7 L209.1,287.4 L209.4,285.2 L209.8,283.0 L210.1,280.9 L210.5,278.7 L210.9,276.5 L211.3,274.4 L211.7,272.3 L212.1,270.2 L212.5,268.1 L212.9,266.1 L213.4,264.1 L213.8,262.1 L214.2,260.1 L214.7,258.2 L215.2,256.3 L215.6,254.5 L216.1,252.6 L216.6,250.8 L217.1,248.9 L217.6,247.1 L218.1,245.2 L218.6,243.3 L219.1,241.4 L219.7,239.5 L220.2,237.5 L220.7,235.5 L221.3,233.4 L221.8,231.3 L222.4,229.1 L223.0,226.8 L223.6,224.5 L224.2,222.1 L224.8,219.6 L225.4,217.2 L226.1,214.7 L226.8,212.2 L227.5,209.8 L228.2,207.3 L229.0,204.9 L229.8,202.5 L230.6,200.1 L231.5,197.9 L232.5,195.6 L233.5,193.5 L234.5,191.5 L235.6,189.6 L236.8,187.8 L238.0,186.1 L239.3,184.6 L240.7,183.3 L242.1,182.1 L243.6,181.0 L245.2,180.2 L246.9,179.6 L248.6,179.1 L250.3,178.9 L252.1,178.8 L253.9,179.0 L255.7,179.3 L257.5,179.9 L259.3,180.6 L261.0,181.5 L262.7,182.5 L264.3,183.6 L265.9,184.8 L267.4,186.1 L268.9,187.6 L270.3,189.1 L271.6,190.6 L272.9,192.3 L274.2,194.0 L275.4,195.8 L276.5,197.7 L277.7,199.6 L278.8,201.6 L279.9,203.6 L280.9,205.6 L281.9,207.7 L282.9,209.8 L283.9,212.0 L284.9,214.1 L285.8,216.3 L286.7,218.4 L287.7,220.6 L288.6,222.7 L289.5,224.9 L290.5,227.0 L291.4,229.1 L292.4,231.2 L293.3,233.3 L294.3,235.3 L295.2,237.3 L296.2,239.3 L297.2,241.2 L298.2,243.1 L299.2,245.1 L300.2,247.0 L301.2,248.9 L302.2,250.7 L303.2,252.6 L304.2,254.5 L305.1,256.3 L306.1,258.2 L307.1,260.1 L308.1,261.9 L309.1,263.8 L310.0,265.7 L311.0,267.6 L311.9,269.5 L312.9,271.4 L313.8,273.3 L314.8,275.2 L315.7,277.2 L316.6,279.1 L317.6,281.0 L318.5,283.0 L319.4,284.9 L320.3,286.9 L321.2,288.8 L322.1,290.8 L323.0,292.8 L324.0,294.7 L324.9,296.7 L325.8,298.7 L326.7,300.6 L327.6,302.6 L328.6,304.6 L329.5,306.5 L330.4,308.5 L331.4,310.5 L332.3,312.4 L333.3,314.4 L334.2,316.3 L335.2,318.3 L336.2,320.2 L337.2,322.2 L338.2,324.1 L339.2,326.0 L340.2,327.9 L341.2,329.9 L342.3,331.8 L343.3,333.7 L344.4,335.5 L345.5,337.4 L346.5,339.3 L347.7,341.1 L348.8,343.0 L349.9,344.8 L351.1,346.6 L352.2,348.5 L353.4,350.3 L354.6,352.0 L355.9,353.8 L357.1,355.6 L358.4,357.3 L359.7,359.0 L361.0,360.7 L362.3,362.4 L363.6,364.1 L365.0,365.8 L366.4,367.4 L367.8,369.0 L369.3,370.6 L370.8,372.2 L372.3,373.8 L373.8,375.3 L375.3,376.8 L376.9,378.3 L378.5,379.8 L380.1,381.2 L381.8,382.7 L383.5,384.1 L385.1,385.5 L386.8,386.9 L388.6,388.3 L390.3,389.6 L392.1,391.0 L393.8,392.3 L395.6,393.6 L397.4,394.9 L399.2,396.2 L401.1,397.5 L402.9,398.7 L404.7,400.0 L406.6,401.2 L408.4,402.5 L410.3,403.7 L412.1,404.9 L414.0,406.1 L415.8,407.4 L417.7,408.6 L419.5,409.8 L421.4,411.0 L423.2,412.2 L425.1,413.3 L426.9,414.5 L428.7,415.7 L430.6,416.8 L432.4,417.9 L434.3,419.0 L436.1,420.0 L438.0,421.0 L439.9,422.0 L441.8,422.9 L443.7,423.7 L445.6,424.5 L447.6,425.2 L449.5,425.8 L451.5,426.4 L453.5,426.9 L455.6,427.4 L457.6,427.8 L459.7,428.2 L461.8,428.5 L463.9,428.8 L466.0,429.1 L468.1,429.3 L470.2,429.6 L472.4,429.7 L474.5,429.9 L476.7,430.1 L478.9,430.2 L481.1,430.4 L483.2,430.5 L485.4,430.6 L487.6,430.8 L489.8,430.9 L492.0,431.1 L494.2,431.2 L496.4,431.4 L498.6,431.6 L500.7,431.9 L502.9,432.1 L505.1,432.4 L507.2,432.7 L509.4,433.1 L511.5,433.4 L513.7,433.8 L515.8,434.2 L517.9,434.7 L520.1,435.1 L522.2,435.6 L524.3,436.1 L526.4,436.6 L528.5,437.2 L530.6,437.7 L532.7,438.3 L534.8,438.9 L536.8,439.5 L538.9,440.1 L541.0,440.8 L543.1,441.4 L545.1,442.1 L547.2,442.8 L549.2,443.5 L551.3,444.2 L553.3,444.9 L555.4,445.7 L557.4,446.4 L559.4,447.2 L561.5,448.0 L563.5,448.7 L565.5,449.5 L567.5,450.3 L569.5,451.1 L571.5,451.9 L573.6,452.8 L575.6,453.6 L577.6,454.4 L579.6,455.3 L581.5,456.1 L583.5,456.9 L585.5,457.8 L587.5,458.7 L589.5,459.5 L591.5,460.4 L593.5,461.3 L595.5,462.1 L597.4,463.0 L599.4,463.9 L601.4,464.8 L603.4,465.7 L605.3,466.5 L607.3,467.4 L609.3,468.3 L611.3,469.2 L613.3,470.1 L615.2,471.0 L617.2,471.9 L619.2,472.8 L621.2,473.7 L623.1,474.5 L625.1,475.4 L627.1,476.3 L629.1,477.2 L631.1,478.1 L633.0,478.9 L635.0,479.8 L637.0,480.7 L639.0,481.6 L641.0,482.4 L643.0,483.3 L645.0,484.1 L647.0,485.0" stroke="#ff00c8"/>
<path d="M154.4,484.0 L156.8,482.5 L158.9,480.9 L160.8,479.0 L162.5,477.1 L164.0,475.0 L165.3,472.9 L166.5,470.6 L167.6,468.3 L168.5,465.9 L169.4,463.5 L170.2,461.0 L170.9,458.6 L171.7,456.1 L172.4,453.6 L173.1,451.1 L173.7,448.6 L174.4,446.1 L175.0,443.6 L175.6,441.1 L176.2,438.6 L176.7,436.0 L177.3,433.5 L177.8,431.0 L178.3,428.4 L178.8,425.9 L179.3,423.3 L179.7,420.8 L180.2,418.2 L180.6,415.6 L181.0,413.1 L181.5,410.5 L181.9,407.9 L182.3,405.3 L182.7,402.8 L183.1,400.2 L183.5,397.6 L183.9,395.0 L184.3,392.4 L184.8,389.8 L185.1,387.3 L185.5,384.7 L185.9,382.1 L186.3,379.5 L186.7,376.9 L187.1,374.3 L187.5,371.7 L187.9,369.1 L188.3,366.5 L188.7,363.9 L189.1,361.3 L189.4,358.7 L189.8,356.1 L190.2,353.5 L190.6,350.9 L190.9,348.3 L191.3,345.7 L191.7,343.1 L192.1,340.5 L192.4,337.9 L192.8,335.3 L193.2,332.7 L193.5,330.1 L193.9,327.5 L194.3,324.9 L194.6,322.2 L195.0,319.6 L195.3,317.0 L195.7,314.4 L196.0,311.8 L196.4,309.2 L196.8,306.6 L197.1,304.0 L197.5,301.4 L197.8,298.8 L198.2,296.2 L198.5,293.6 L198.9,291.0 L199.2,288.4 L199.5,285.8 L199.9,283.2 L200.2,280.6 L200.6,278.0 L200.9,275.4 L201.2,272.8 L201.6,270.3 L201.9,267.7 L202.3,265.1 L202.6,262.5 L202.9,259.9 L203.3,257.3 L203.6,254.7 L203.9,252.2 L204.3,249.6 L204.6,247.0 L204.9,244.4 L205.2,241.9 L205.6,239.3 L205.9,236.7 L206.2,234.2 L206.6,231.6 L206.9,229.0 L207.2,226.5 L207.5,223.9 L207.8,221.4 L208.2,218.8 L208.5,216.3 L208.8,213.7 L209.1,211.2 L209.5,208.6 L209.8,206.1 L210.1,203.6 L210.4,201.0 L210.7,198.5 L211.0,196.0 L211.4,193.4 L211.7,190.9 L212.0,188.4 L212.3,185.9 L212.6,183.4 L213.0,180.9 L213.3,178.4 L213.6,175.8 L213.9,173.3 L214.3,170.8 L214.6,168.3 L215.0,165.8 L215.3,163.2 L215.7,160.7 L216.1,158.2 L216.5,155.7 L216.9,153.1 L217.3,150.6 L217.7,148.0 L218.1,145.4 L218.6,142.9 L219.0,140.3 L219.5,137.7 L220.0,135.1 L220.4,132.5 L221.0,129.9 L221.5,127.3 L222.0,124.7 L222.6,122.0 L223.2,119.3 L223.8,116.7 L224.4,114.0 L225.0,111.3 L225.7,108.6 L226.4,105.9 L227.1,103.1 L227.8,100.3 L228.5,97.6 L229.3,94.8 L230.1,92.0 L231.0,89.3 L231.9,86.6 L232.8,83.9 L233.8,81.3 L234.9,78.8 L236.1,76.3 L237.3,74.0 L238.6,71.8 L240.0,69.7 L241.5,67.8 L243.1,66.1 L244.8,64.5 L246.6,63.1 L248.5,62.1 L250.4,61.3 L252.4,61.0 L254.3,61.1 L256.2,61.6 L258.0,62.5 L259.8,63.8 L261.6,65.4 L263.3,67.2 L265.0,69.3 L266.6,71.5 L268.2,73.9 L269.6,76.4 L271.0,78.9 L272.4,81.5 L273.6,84.1 L274.8,86.7 L276.0,89.4 L277.1,92.0 L278.2,94.6 L279.2,97.2 L280.2,99.8 L281.2,102.3 L282.2,104.8 L283.1,107.3 L284.1,109.8 L285.0,112.2 L285.8,114.6 L286.7,117.1 L287.6,119.5 L288.4,121.9 L289.2,124.2 L290.0,126.6 L290.8,129.0 L291.6,131.4 L292.4,133.7 L293.2,136.1 L294.0,138.5 L294.7,140.9 L295.5,143.2 L296.3,145.6 L297.0,148.0 L297.8,150.4 L298.6,152.8 L299.4,155.3 L300.1,157.7 L300.9,160.1 L301.7,162.6 L302.5,165.0 L303.3,167.5 L304.1,169.9 L304.9,172.4 L305.7,174.9 L306.5,177.3 L307.3,179.8 L308.1,182.3 L308.9,184.8 L309.7,187.3 L310.5,189.8 L311.3,192.3 L312.1,194.8 L313.0,197.3 L313.8,199.8 L314.6,202.3 L315.5,204.8 L316.3,207.3 L317.1,209.8 L318.0,212.3 L318.8,214.9 L319.7,217.4 L320.6,219.9 L321.4,222.4 L322.3,224.9 L323.2,227.4 L324.1,229.9 L325.0,232.4 L325.9,235.0 L326.8,237.5 L327.7,240.0 L328.6,242.5 L329.5,245.0 L330.4,247.4 L331.4,249.9 L332.3,252.4 L333.2,254.9 L334.2,257.4 L335.2,259.8 L336.1,262.3 L337.1,264.8 L338.1,267.2 L339.1,269.7 L340.1,272.1 L341.1,274.6 L342.1,277.0 L343.1,279.4 L344.1,281.8 L345.1,284.2 L346.2,286.6 L347.2,289.0 L348.3,291.4 L349.4,293.8 L350.5,296.1 L351.6,298.5 L352.7,300.8 L353.8,303.2 L354.9,305.5 L356.1,307.8 L357.2,310.1 L358.4,312.4 L359.6,314.7 L360.8,316.9 L362.0,319.2 L363.3,321.4 L364.5,323.6 L365.8,325.9 L367.1,328.1 L368.4,330.2 L369.7,332.4 L371.1,334.6 L372.5,336.7 L373.8,338.9 L375.3,341.0 L376.7,343.1 L378.1,345.2 L379.6,347.2 L381.1,349.3 L382.6,351.3 L384.2,353.3 L385.8,355.3 L387.4,357.3 L389.0,359.3 L390.6,361.2 L392.3,363.2 L394.0,365.1 L395.7,367.0 L397.5,368.9 L399.3,370.7 L401.1,372.6 L402.9,374.4 L404.7,376.2 L406.6,378.0 L408.5,379.8 L410.4,381.6 L412.3,383.4 L414.2,385.2 L416.2,386.9 L418.1,388.7 L420.1,390.4 L422.1,392.2 L424.1,393.9 L426.1,395.6 L428.1,397.4 L430.2,399.1 L432.2,400.8 L434.2,402.5 L436.3,404.3 L438.3,406.0 L440.4,407.7 L442.4,409.4 L444.5,411.0 L446.6,412.6 L448.8,414.1 L450.9,415.5 L453.2,416.7 L455.4,417.8 L457.8,418.6 L460.2,419.3 L462.6,419.8 L465.1,420.1 L467.7,420.3 L470.3,420.5 L472.9,420.6 L475.5,420.8 L478.1,421.1 L480.7,421.3 L483.3,421.6 L485.9,422.0 L488.5,422.4 L491.1,422.8 L493.7,423.3 L496.3,423.8 L498.8,424.3 L501.4,424.9 L503.9,425.5 L506.4,426.2 L509.0,426.9 L511.4,427.7 L513.9,428.5 L516.4,429.3 L518.8,430.1 L521.3,431.0 L523.7,431.9 L526.1,432.9 L528.5,433.9 L530.9,434.9 L533.3,435.9 L535.7,437.0 L538.0,438.1 L540.4,439.2 L542.7,440.4 L545.0,441.6 L547.3,442.8 L549.6,444.0 L551.9,445.2 L554.2,446.5 L556.5,447.8 L558.7,449.1 L561.0,450.4 L563.2,451.8 L565.5,453.1 L567.7,454.5 L569.9,455.9 L572.1,457.3 L574.3,458.7 L576.5,460.1 L578.7,461.5 L580.9,463.0 L583.1,464.4 L585.3,465.9 L587.4,467.3 L589.6,468.8 L591.7,470.3 L593.9,471.8 L596.0,473.3 L598.2,474.7 L600.3,476.2 L602.5,477.7 L604.6,479.2 L606.7,480.7 L608.8,482.1 L610.9,483.6 L613.1,485.1" stroke="#0082c8"/>
</g>
<text transform="translate(103.2,71.8) scale(1.04,1)" font-size="26" text-anchor="end">1200</text>
<text transform="translate(103.2,212.2) scale(1.04,1)" font-size="26" text-anchor="end">800</text>
<text transform="translate(103.2,352.7) scale(1.04,1)" font-size="26" text-anchor="end">400</text>
<text transform="translate(103.2,493.2) scale(1.04,1)" font-size="26" text-anchor="end">0</text>
<text transform="translate(112.3,518.5) scale(1.03,1)" font-size="26" text-anchor="middle">360</text>
<text transform="translate(274.3,518.5) scale(1.03,1)" font-size="26" text-anchor="middle">460</text>
<text transform="translate(437.2,518.5) scale(1.03,1)" font-size="26" text-anchor="middle">560</text>
<text transform="translate(599.5,518.5) scale(1.03,1)" font-size="26" text-anchor="middle">660</text>
<text transform="translate(358,557) scale(1.014,1)" font-size="26" text-anchor="middle">Wavelength (nm)</text>
<text transform="translate(28.1,275.6) rotate(-90)" font-size="26.25" text-anchor="middle">Fluorescence Intensity (a.u.)</text>
<text transform="translate(465,62.5)" font-size="26">TBAAc</text>
<path d="M438.4,108 L486.3,108" stroke="#ff0000" stroke-width="3" stroke-dasharray="5.8,4.7"/>
<text transform="translate(499.5,116.2) scale(1.015,1)" font-size="26">250 eq</text>
<path d="M438.5,139.4 L488.5,139.4" stroke="#008c00" stroke-width="3"/>
<text transform="translate(499.5,148.4) scale(1.015,1)" font-size="26">1000 eq</text>
<path d="M438.5,170.5 L488.5,170.5" stroke="#5c00c8" stroke-width="3"/>
<text transform="translate(499.5,179.7) scale(1.015,1)" font-size="26">4000 eq</text>
<path d="M438.5,201.5 L488.5,201.5" stroke="#cccc00" stroke-width="3"/>
<text transform="translate(499.5,210.6) scale(1.015,1)" font-size="26">6000 eq</text>
<path d="M438.5,232.2 L488.5,232.2" stroke="#00c864" stroke-width="3"/>
<text transform="translate(499.5,242.9) scale(1.015,1)" font-size="26">10000 eq</text>
<path d="M438.5,263.3 L488.5,263.3" stroke="#ff00c8" stroke-width="3"/>
<text transform="translate(499.5,274.5) scale(1.015,1)" font-size="26">14000 eq</text>
<path d="M438.5,294.3 L488.5,294.3" stroke="#0082c8" stroke-width="3"/>
<text transform="translate(499.5,304.1) scale(1.015,1)" font-size="26">20000 eq</text>
<text transform="translate(-1,630.5)" font-size="40.5" font-weight="bold" letter-spacing="0.9">(b)</text>
<text transform="translate(165,646) scale(1.068,1)" font-size="26">log(<tspan font-style="italic">I</tspan>/<tspan font-style="italic">I</tspan><tspan font-size="16" dy="8">250eq</tspan><tspan dy="-8">) = - 1.4 +3.7log(</tspan><tspan font-family="Liberation Serif" font-style="italic">η</tspan> /cP),</text>
<text transform="translate(166,694) scale(1.06,1)" font-size="26">R<tspan font-size="16" dy="-10.5" dx="1">2</tspan><tspan dy="10.5" dx="-2"> = 0.999</tspan></text>
<g stroke="#000" stroke-width="3.2" fill="none">
<path d="M130,690.5 L125.7,690.5 L125.7,979.2 L630.5,979.2"/>
<path d="M125.7,739 L130,739"/>
<path d="M125.7,787.3 L130,787.3"/>
<path d="M125.7,835.2 L130,835.2"/>
<path d="M125.7,884.2 L130,884.2"/>
<path d="M125.7,932.1 L130,932.1"/>
<path d="M250,979.2 L250,975"/>
<path d="M377.5,979.2 L377.5,975"/>
<path d="M502.3,979.2 L502.3,975"/>
<path d="M629,979.2 L629,975"/>
</g>
<text transform="translate(106,699.5)" font-size="26.5" text-anchor="end">1.2</text>
<text transform="translate(106,748.0)" font-size="26.5" text-anchor="end">1</text>
<text transform="translate(106,796.3)" font-size="26.5" text-anchor="end">0.8</text>
<text transform="translate(106,844.2)" font-size="26.5" text-anchor="end">0.6</text>
<text transform="translate(106,893.2)" font-size="26.5" text-anchor="end">0.4</text>
<text transform="translate(106,941.1)" font-size="26.5" text-anchor="end">0.2</text>
<text transform="translate(103,980)" font-size="26.5" text-anchor="end">0</text>
<text transform="translate(120.5,1010.5)" font-size="27" text-anchor="middle">0.3</text>
<text transform="translate(249,1010.5)" font-size="27" text-anchor="middle">0.4</text>
<text transform="translate(377.5,1010.5)" font-size="27" text-anchor="middle">0.5</text>
<text transform="translate(502.3,1010.5)" font-size="27" text-anchor="middle">0.6</text>
<text transform="translate(628,1010.5)" font-size="27" text-anchor="middle">0.7</text>
<text transform="translate(347,1049)" font-size="27">log(<tspan font-family="Liberation Serif" font-style="italic">η</tspan> /cP)</text>
<text transform="translate(37.2,898.5) rotate(-90)" font-size="26">log(<tspan font-style="italic">I</tspan>/<tspan font-style="italic">I</tspan><tspan font-size="15" dy="10.5">250eq</tspan><tspan dy="-10.5">)</tspan></text>
<path d="M209.5,979 L591,706.5" stroke="#0a70c8" stroke-width="4.5" fill="none"/>
<circle cx="205.4" cy="978.3" r="3.8" fill="#000"/>
<circle cx="247" cy="954" r="3.3" fill="#000"/>
<circle cx="362.2" cy="870.4" r="3.3" fill="#000"/>
<circle cx="421.5" cy="828.7" r="3.3" fill="#000"/>
<circle cx="488.1" cy="779.5" r="3.3" fill="#000"/>
<circle cx="545.7" cy="739.3" r="3.3" fill="#000"/>
<circle cx="591.8" cy="704.9" r="3.8" fill="#000"/>
<text transform="translate(136,960.6) scale(0.98,1)" font-size="28.5">250 eq</text>
<text transform="translate(265.3,851.2) scale(0.98,1)" font-size="28.5">4000 eq</text>
<text transform="translate(376,759.8) scale(0.98,1)" font-size="28.5">10000 eq</text>
<text transform="translate(533,687.3) scale(0.98,1)" font-size="28.5">20000 eq</text>
</svg>
</body></html>
